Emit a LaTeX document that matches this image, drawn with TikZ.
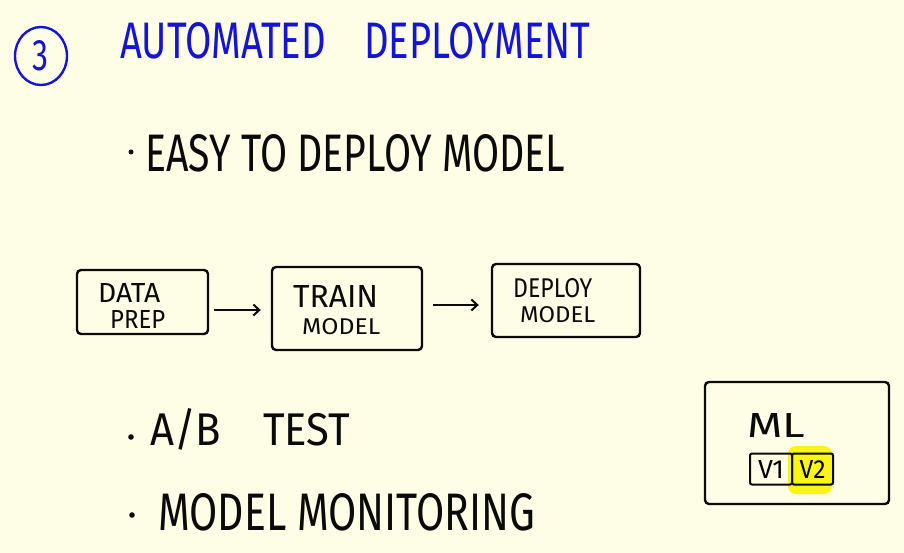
\documentclass[tikz,border=0pt]{standalone}
\usepackage{fontspec}
\usepackage{graphicx}
\setmainfont{Fira Sans}
\usetikzlibrary{arrows.meta,shapes.geometric}
\definecolor{paper}{RGB}{254,254,230}
\definecolor{ink}{RGB}{10,10,10}
\definecolor{blueink}{RGB}{20,20,215}
\definecolor{hilite}{RGB}{250,245,20}
\newcommand{\fitt}[3]{\resizebox{#1pt}{#2pt}{#3}}
\tikzset{
  handbox/.style={draw=ink, line width=2.4pt, rounded corners=4pt, inner sep=0pt},
  handtext/.style={inner sep=0pt, anchor=north west, text=ink},
  flow/.style={draw=ink, line width=2pt, -{Straight Barb[length=6pt,width=11pt,line width=2pt]}},
}
\begin{document}
\begin{tikzpicture}[x=1pt,y=-1pt]
\fill[paper] (0,0) rectangle (904,553);
\useasboundingbox (0,0) rectangle (904,553);
% heading
\node[draw=blueink, line width=2.4pt, ellipse, minimum width=52pt, minimum height=58pt, inner sep=0pt, text=blueink] (num) at (41,56) {\fitt{16}{30}{3}};
\node[handtext, text=blueink] (title) at (120,22) {\fitt{470}{36}{AUTOMATED\quad DEPLOYMENT}};
% bullet 1
\fill[ink] (131,152) circle (2.5) coordinate (d1);
\node[handtext] (easy) at (145,134) {\fitt{420}{37}{EASY TO DEPLOY MODEL}};
% pipeline
\node[handbox, minimum width=131pt, minimum height=64pt] (prep) at (142.5,302) {};
\node[handtext] (prep1) at (98,283) {\fitt{62}{19}{DATA}};
\node[handtext] (prep2) at (110,310) {\fitt{55}{18}{PREP}};
\node[handbox, minimum width=150pt, minimum height=83pt] (train) at (347,308.5) {};
\node[handtext] (train1) at (293,285) {\fitt{85}{22}{TRAIN}};
\node[handtext] (train2) at (302,318) {\fitt{78}{16}{MODEL}};
\node[handbox, minimum width=148pt, minimum height=73pt] (deploy) at (566,300.5) {};
\node[handtext] (deploy1) at (513,278) {\fitt{79}{19}{DEPLOY}};
\node[handtext] (deploy2) at (520,306) {\fitt{75}{16}{MODEL}};
\draw[flow] ([xshift=5pt]prep.east|-0,310) -- ([xshift=-10pt]train.west|-0,310);
\draw[flow] ([xshift=10pt]train.east|-0,305) -- ([xshift=-12pt]deploy.west|-0,305);
% bullet 2 and 3
\fill[ink] (131,437) circle (2.8) coordinate (d2);
\node[handtext] (ab) at (150,408) {\fitt{200}{37}{A/B\quad TEST}};
\fill[ink] (132,515) circle (2.8) coordinate (d3);
\node[handtext] (mon) at (158,493) {\fitt{377}{37}{MODEL MONITORING}};
% ML box
\node[handbox, minimum width=184pt, minimum height=122pt] (ml) at (797,443) {};
\node[handtext] (mltext) at (747,413) {\fitt{58}{24}{ML}};
\fill[hilite, rounded corners=8pt] (788,446) rectangle (832,494);
\node[handbox, line width=2pt, rounded corners=2pt, minimum width=42pt, minimum height=31pt] (v1) at (771,469) {\fitt{26}{18}{V1}};
\node[handbox, line width=2pt, rounded corners=2pt, minimum width=41pt, minimum height=31pt] (v2) at (812.5,469) {\fitt{26}{18}{V2}};
\end{tikzpicture}
\end{document}
